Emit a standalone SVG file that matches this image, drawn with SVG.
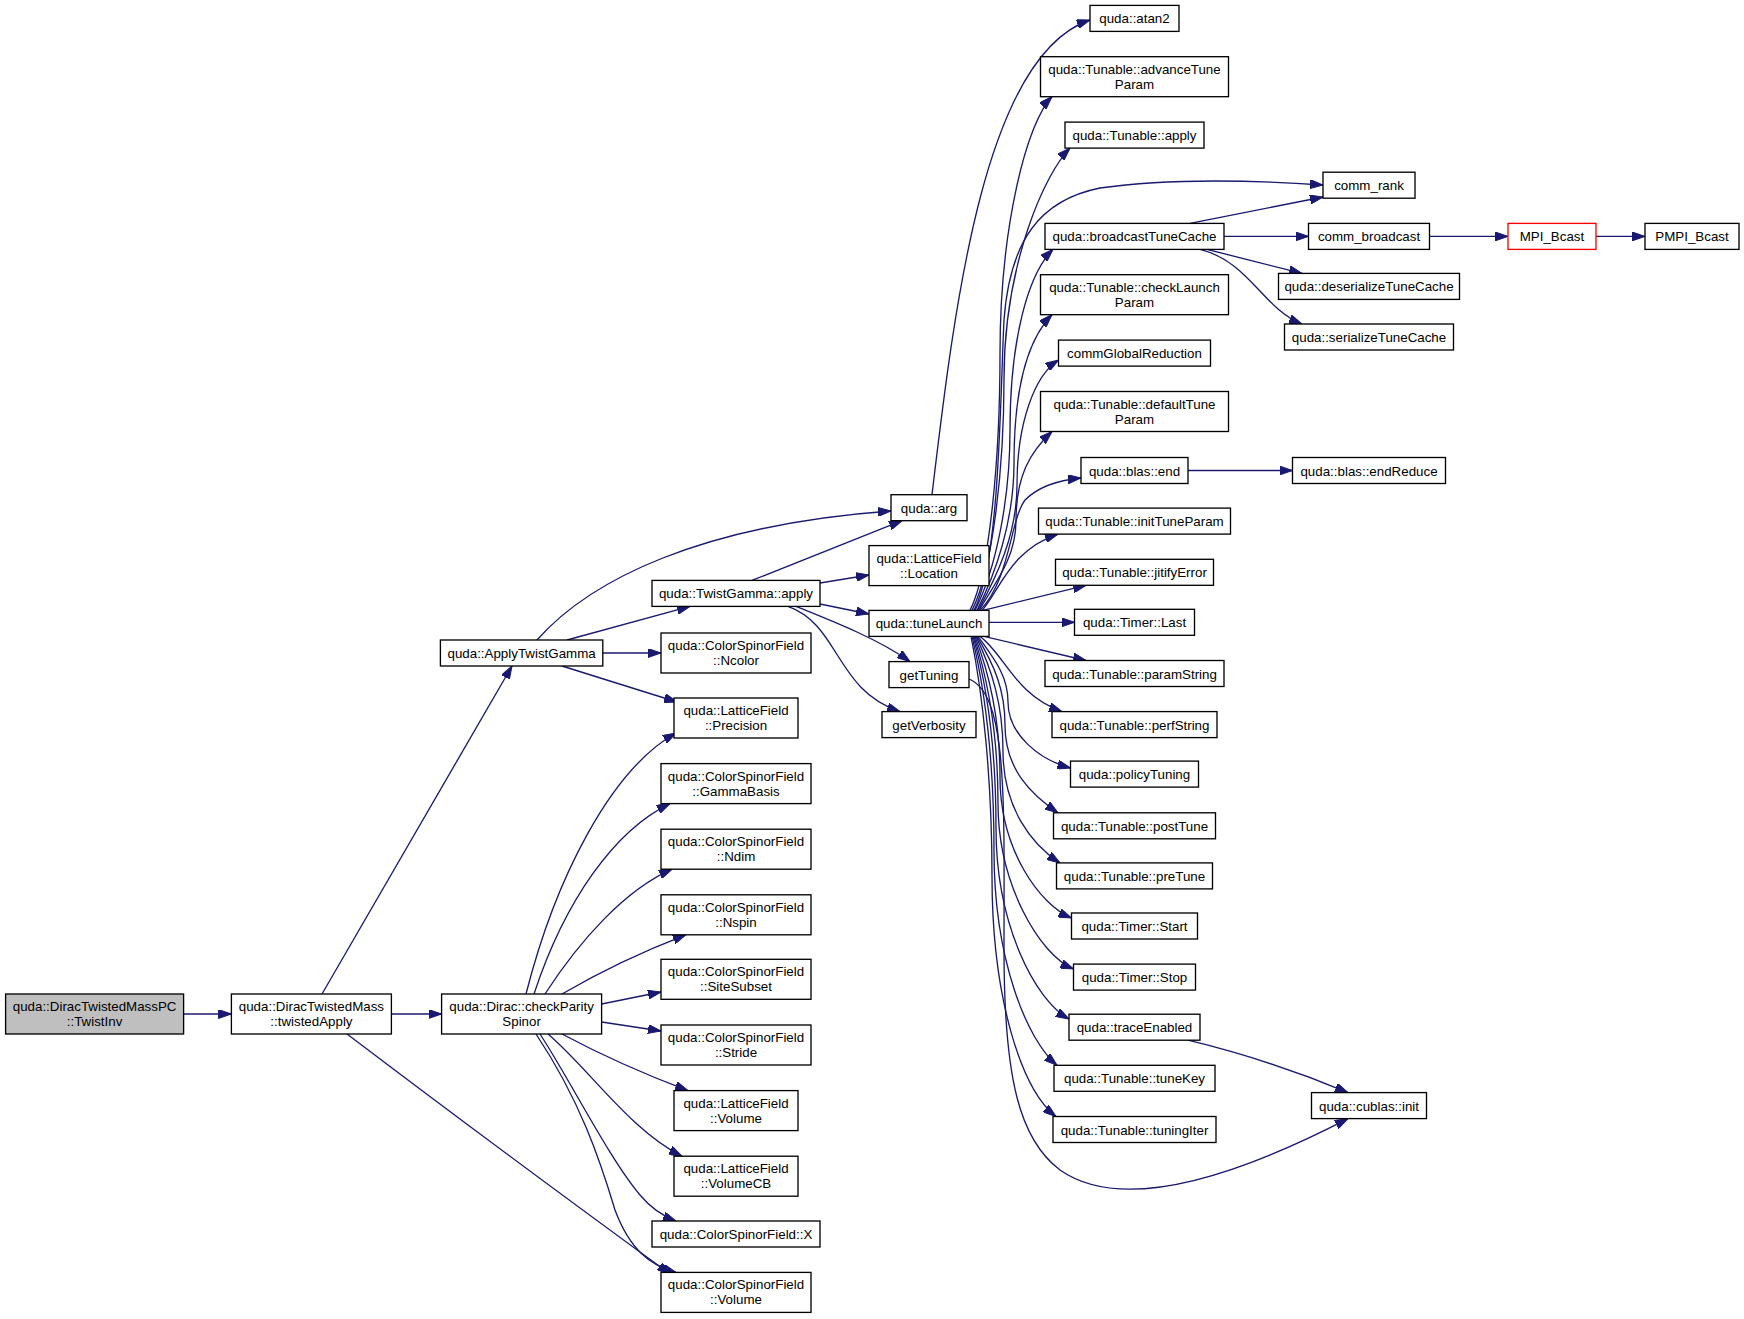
<svg xmlns="http://www.w3.org/2000/svg" width="1744" height="1319" viewBox="0 0 1744 1319">
<style>
.n rect{fill:#fff;stroke:#000;stroke-width:1.33}
.n text{font-family:"Liberation Sans",Arial,sans-serif;font-size:13.33px;text-anchor:middle;fill:#000}
.e path{fill:none;stroke:#191970;stroke-width:1.33;marker-end:url(#a)}
</style>
<defs>
<marker id="a" markerUnits="userSpaceOnUse" markerWidth="13" markerHeight="9" refX="13" refY="4.5" orient="auto">
<path d="M0,0 L13,4.5 L0,9 z" fill="#191970" stroke="#191970" stroke-width="1"/>
</marker>
</defs>
<rect width="1744" height="1319" fill="#fff"/>
<g id="edges" class="e">
<path d="M183.6,1014 L231.4,1014"/>
<path d="M391.4,1014 L441.6,1014"/>
<path d="M322,994 L512,666"/>
<path d="M347,1034 Q500,1150 670,1274"/>
<path d="M537,640 C590,580 700,525 891,511"/>
<path d="M567,640 L690,606.4"/>
<path d="M602.8,653 L661,653"/>
<path d="M562,666 L677,702"/>
<path d="M752,580.4 L902,520.7"/>
<path d="M820,583 L869,575"/>
<path d="M820,604 L869,614"/>
<path d="M796,606.4 C835,622 880,640 910,661.6"/>
<path d="M788,606.4 C840,625 835,690 900,711.6"/>
<path d="M932,494.7 C955,300 985,55 1090,20"/>
<path d="M1188,470.5 L1292.5,470.5"/>
<path d="M1429.5,236.4 L1508,236.4"/>
<path d="M1596,236.4 L1645,236.4"/>
<path d="M1190,223.4 L1323,197"/>
<path d="M1224,236.4 L1308.5,236.4"/>
<path d="M1207,249.4 L1302,273.4"/>
<path d="M1200,249.4 C1250,262 1262,308 1302,324"/>
<path d="M1188,1040.2 Q1270,1060 1348,1092.6"/>
<path d="M969,679 C1008,695 1004,800 1004,950 C1004,1080 1020,1140 1060,1170 C1110,1205 1200,1195 1348,1118.6"/>
<path d="M970,610.4 C990,571 1000,456 1000,354 C1000,226 1027,122 1052,96.7"/>
<path d="M972,610.4 C992,571 1004,472 1004,379 C1004,264 1045,173 1070,148.1"/>
<path d="M974,610.4 C1000,560 1000,400 1004,320 C1010,240 1040,200 1100,188 C1170,178 1250,180 1323,185"/>
<path d="M975,610.4 C995,571 1010,502 1010,430 C1010,340 1028,274 1053,249.4"/>
<path d="M977,610.4 C995,575 1014,522 1014,463 C1014,389 1027,340 1052,314.7"/>
<path d="M978,610.4 C996,578 1017,535 1017,485 C1017,422 1035,375 1058.5,360"/>
<path d="M979,610.4 C996,582 1016,557 1016,521 C1016,476 1030,452 1052,431.5"/>
<path d="M980,610.4 C1010,580 1010,520 1025,500 C1040,485 1060,480 1081,478"/>
<path d="M982,610.4 C1000,590 1010,550 1058,534.1"/>
<path d="M983,610.4 L1086,585.3"/>
<path d="M989,622.3 L1074.5,622.3"/>
<path d="M984,636.4 L1086,660.5"/>
<path d="M980,636.4 C1005,655 1015,695 1062,711.6"/>
<path d="M978,636.4 C995,660 1008,676 1008,702 C1008,735 1040,760 1070.5,768"/>
<path d="M977,636.4 C994,665 1005,689 1005,725 C1005,770 1032,795 1058,812.8"/>
<path d="M976,636.4 C992,670 1003,705 1003,751 C1003,808 1032,845 1060,862.9"/>
<path d="M975,636.4 C990,675 1000,721 1000,777 C1000,850 1040,905 1071.5,918"/>
<path d="M974,636.4 C988,680 998,736 998,803 C998,885 1040,955 1073.5,969"/>
<path d="M973,636.4 C987,685 996,751 996,828 C996,925 1035,1000 1069,1019"/>
<path d="M972,636.4 C985,690 994,765 994,851 C994,960 1027,1040 1057,1065.3"/>
<path d="M971,636.4 C983,695 992,780 992,876 C992,1000 1022,1090 1056,1116.5"/>
<path d="M526,994 C555,880 610,770 676,733"/>
<path d="M534,994 C565,900 615,830 670,803.6"/>
<path d="M545,994 C580,940 625,890 672,869.2"/>
<path d="M562,994 Q620,960 686,934.8"/>
<path d="M601.6,1004 L661,992"/>
<path d="M601.6,1022 L661,1031"/>
<path d="M562,1034 Q620,1065 688,1090.6"/>
<path d="M548,1034 C590,1070 630,1130 682,1156.2"/>
<path d="M540,1034 C570,1080 610,1160 640,1195 C650,1207 660,1215 676,1221"/>
<path d="M536,1034 C580,1100 600,1160 615,1210 C630,1250 650,1265 676,1272.4"/>
</g>
<g id="n1" class="n"><rect x="5.6" y="994" width="178" height="40" style="fill:#bfbfbf"/><text x="94.6" y="1011">quda::DiracTwistedMassPC</text><text x="94.6" y="1026">::TwistInv</text></g>
<g id="n2" class="n"><rect x="231.4" y="994" width="160" height="40"/><text x="311.4" y="1011">quda::DiracTwistedMass</text><text x="311.4" y="1026">::twistedApply</text></g>
<g id="n3" class="n"><rect x="441.6" y="994" width="160" height="40"/><text x="521.6" y="1011">quda::Dirac::checkParity</text><text x="521.6" y="1026">Spinor</text></g>
<g id="n4" class="n"><rect x="440.4" y="640" width="162.4" height="26"/><text x="521.6" y="658">quda::ApplyTwistGamma</text></g>
<g id="n5" class="n"><rect x="652" y="580.4" width="168" height="26"/><text x="736" y="598.4">quda::TwistGamma::apply</text></g>
<g id="n6" class="n"><rect x="661" y="633" width="150" height="40"/><text x="736" y="650">quda::ColorSpinorField</text><text x="736" y="665">::Ncolor</text></g>
<g id="n7" class="n"><rect x="674" y="698" width="124" height="40"/><text x="736" y="715">quda::LatticeField</text><text x="736" y="730">::Precision</text></g>
<g id="n8" class="n"><rect x="661" y="763.6" width="150" height="40"/><text x="736" y="780.6">quda::ColorSpinorField</text><text x="736" y="795.6">::GammaBasis</text></g>
<g id="n9" class="n"><rect x="661" y="829.2" width="150" height="40"/><text x="736" y="846.2">quda::ColorSpinorField</text><text x="736" y="861.2">::Ndim</text></g>
<g id="n10" class="n"><rect x="661" y="894.8" width="150" height="40"/><text x="736" y="911.8">quda::ColorSpinorField</text><text x="736" y="926.8">::Nspin</text></g>
<g id="n11" class="n"><rect x="661" y="959.3" width="150" height="40"/><text x="736" y="976.3">quda::ColorSpinorField</text><text x="736" y="991.3">::SiteSubset</text></g>
<g id="n12" class="n"><rect x="661" y="1025" width="150" height="40"/><text x="736" y="1042">quda::ColorSpinorField</text><text x="736" y="1057">::Stride</text></g>
<g id="n13" class="n"><rect x="674" y="1090.6" width="124" height="40"/><text x="736" y="1107.6">quda::LatticeField</text><text x="736" y="1122.6">::Volume</text></g>
<g id="n14" class="n"><rect x="674" y="1156.2" width="124" height="40"/><text x="736" y="1173.2">quda::LatticeField</text><text x="736" y="1188.2">::VolumeCB</text></g>
<g id="n15" class="n"><rect x="652" y="1221" width="168" height="26"/><text x="736" y="1239">quda::ColorSpinorField::X</text></g>
<g id="n16" class="n"><rect x="661" y="1272.4" width="150" height="40"/><text x="736" y="1289.4">quda::ColorSpinorField</text><text x="736" y="1304.4">::Volume</text></g>
<g id="n17" class="n"><rect x="891" y="494.7" width="76" height="26"/><text x="929" y="512.7">quda::arg</text></g>
<g id="n18" class="n"><rect x="869" y="545.6" width="120" height="40"/><text x="929" y="562.6">quda::LatticeField</text><text x="929" y="577.6">::Location</text></g>
<g id="n19" class="n"><rect x="869" y="610.4" width="120" height="26"/><text x="929" y="628.4">quda::tuneLaunch</text></g>
<g id="n20" class="n"><rect x="889" y="661.6" width="80" height="26"/><text x="929" y="679.6">getTuning</text></g>
<g id="n21" class="n"><rect x="882" y="711.6" width="94" height="26"/><text x="929" y="729.6">getVerbosity</text></g>
<g id="n22" class="n"><rect x="1090" y="5.4" width="89" height="26"/><text x="1134.5" y="23.4">quda::atan2</text></g>
<g id="n23" class="n"><rect x="1040.5" y="56.7" width="188" height="40"/><text x="1134.5" y="73.7">quda::Tunable::advanceTune</text><text x="1134.5" y="88.7">Param</text></g>
<g id="n24" class="n"><rect x="1065" y="122.1" width="139" height="26"/><text x="1134.5" y="140.1">quda::Tunable::apply</text></g>
<g id="n25" class="n"><rect x="1045" y="223.4" width="179" height="26"/><text x="1134.5" y="241.4">quda::broadcastTuneCache</text></g>
<g id="n26" class="n"><rect x="1040.5" y="274.7" width="188" height="40"/><text x="1134.5" y="291.7">quda::Tunable::checkLaunch</text><text x="1134.5" y="306.7">Param</text></g>
<g id="n27" class="n"><rect x="1058.5" y="340.1" width="152" height="26"/><text x="1134.5" y="358.1">commGlobalReduction</text></g>
<g id="n28" class="n"><rect x="1040.5" y="391.5" width="188" height="40"/><text x="1134.5" y="408.5">quda::Tunable::defaultTune</text><text x="1134.5" y="423.5">Param</text></g>
<g id="n29" class="n"><rect x="1081" y="457.5" width="107" height="26"/><text x="1134.5" y="475.5">quda::blas::end</text></g>
<g id="n30" class="n"><rect x="1038.5" y="508.1" width="192" height="26"/><text x="1134.5" y="526.1">quda::Tunable::initTuneParam</text></g>
<g id="n31" class="n"><rect x="1055.5" y="559.3" width="158" height="26"/><text x="1134.5" y="577.3">quda::Tunable::jitifyError</text></g>
<g id="n32" class="n"><rect x="1074.5" y="609.3" width="120" height="26"/><text x="1134.5" y="627.3">quda::Timer::Last</text></g>
<g id="n33" class="n"><rect x="1045" y="660.5" width="179" height="26"/><text x="1134.5" y="678.5">quda::Tunable::paramString</text></g>
<g id="n34" class="n"><rect x="1052" y="711.6" width="165" height="26"/><text x="1134.5" y="729.6">quda::Tunable::perfString</text></g>
<g id="n35" class="n"><rect x="1070.5" y="761.1" width="128" height="26"/><text x="1134.5" y="779.1">quda::policyTuning</text></g>
<g id="n36" class="n"><rect x="1053.5" y="812.8" width="162" height="26"/><text x="1134.5" y="830.8">quda::Tunable::postTune</text></g>
<g id="n37" class="n"><rect x="1056.5" y="862.9" width="156" height="26"/><text x="1134.5" y="880.9">quda::Tunable::preTune</text></g>
<g id="n38" class="n"><rect x="1071.5" y="913" width="126" height="26"/><text x="1134.5" y="931">quda::Timer::Start</text></g>
<g id="n39" class="n"><rect x="1073.5" y="964.1" width="122" height="26"/><text x="1134.5" y="982.1">quda::Timer::Stop</text></g>
<g id="n40" class="n"><rect x="1069" y="1014.2" width="131" height="26"/><text x="1134.5" y="1032.2">quda::traceEnabled</text></g>
<g id="n41" class="n"><rect x="1054" y="1065.3" width="161" height="26"/><text x="1134.5" y="1083.3">quda::Tunable::tuneKey</text></g>
<g id="n42" class="n"><rect x="1053" y="1116.5" width="163" height="26"/><text x="1134.5" y="1134.5">quda::Tunable::tuningIter</text></g>
<g id="n43" class="n"><rect x="1323" y="172.2" width="92" height="26"/><text x="1369" y="190.2">comm_rank</text></g>
<g id="n44" class="n"><rect x="1308.5" y="223.4" width="121" height="26"/><text x="1369" y="241.4">comm_broadcast</text></g>
<g id="n45" class="n"><rect x="1278.5" y="273.4" width="181" height="26"/><text x="1369" y="291.4">quda::deserializeTuneCache</text></g>
<g id="n46" class="n"><rect x="1284.5" y="324" width="169" height="26"/><text x="1369" y="342">quda::serializeTuneCache</text></g>
<g id="n47" class="n"><rect x="1292.5" y="457.5" width="153" height="26"/><text x="1369" y="475.5">quda::blas::endReduce</text></g>
<g id="n48" class="n"><rect x="1311.5" y="1092.6" width="115" height="26"/><text x="1369" y="1110.6">quda::cublas::init</text></g>
<g id="n49" class="n"><rect x="1508" y="223.4" width="88" height="26" style="stroke:#ff0000"/><text x="1552" y="241.4">MPI_Bcast</text></g>
<g id="n50" class="n"><rect x="1645" y="223.4" width="94" height="26"/><text x="1692" y="241.4">PMPI_Bcast</text></g>
</svg>
